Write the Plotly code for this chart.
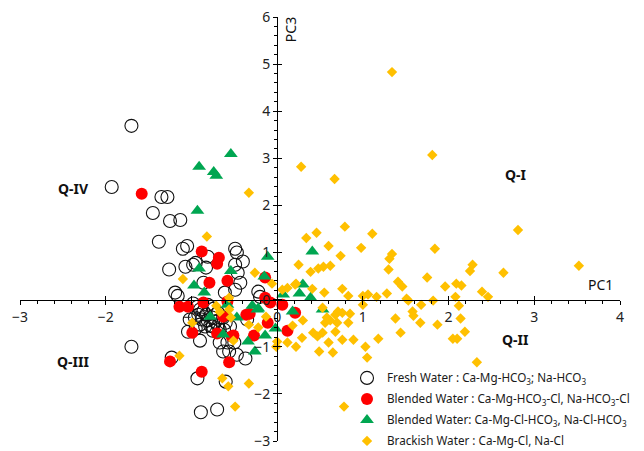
import plotly.graph_objects as go

# ---------------- data (PC1, PC3 scores) ----------------
fresh_pc1 = [-1.70, -1.93, -1.35, -1.28, -1.45, -1.25, -1.13, -1.38, -1.10, -1.05,
             -0.95, -0.81, -0.83, -1.26, -0.86, -1.19, -1.16, -0.61, -0.47, -0.49,
             -0.40, -0.46, -0.43, -0.49, -0.22, -0.20, -0.49, -1.70, -1.23, -0.93,
             -0.89, -0.70, -0.60, -1.04, -0.90, -0.75, -0.67, -0.63, -0.56, -0.58,
             -0.47, -0.50, -0.37,
             -0.98, -0.93, -0.90, -0.86, -0.83, -0.92, -0.96, -0.88, -0.81, -0.76,
             -0.72, -0.78, -0.84, -0.69, -0.67, -0.75, -0.90, -0.81, -0.74, -0.69,
             -0.63, -0.60, -0.62, -0.55, -1.02, -0.95, -0.35, -0.98, -1.07]
fresh_pc3 = [3.69, 2.39, 2.18, 2.18, 1.84, 1.67, 1.69, 1.23, 1.08, 1.14,
             0.78, 0.91, 0.68, 0.64, 0.36, 0.15, 0.08, 0.15, 1.00, 1.08,
             0.81, 0.57, 0.36, 0.21, 0.17, 0.06, 0.74, -1.00, -1.23, -1.67,
             -2.39, -2.33, -1.74, -0.68, -0.87, -0.57, -0.91, -1.10, -1.10, -0.91,
             -1.17, -0.91, -1.25,
             -0.08, -0.15, -0.21, -0.25, -0.32, -0.32, -0.38, -0.42, -0.44, -0.38,
             -0.47, -0.55, -0.57, -0.55, -0.64, -0.66, -0.53, -0.11, -0.19, -0.28,
             -0.38, -0.49, -0.64, -0.57, -0.42, -0.61, -0.42, 0.74, 0.70]

blend1_pc1 = [-1.58, -0.88, -0.68, -0.70, -0.79, -0.58, -0.86, -1.14, -1.04, -0.14,
              -0.14, -0.08, 0.06, 0.21, -0.58, -0.32, -0.99, -0.63, -0.70, -0.51,
              -0.56, -0.88, -1.25, -0.36, -0.11, -0.27, 0.12, -0.53]
blend1_pc3 = [2.25, 1.02, 0.89, 0.76, 0.36, 0.40, -0.06, -0.15, -0.15, 0.47,
              0.04, -0.06, -0.11, -0.28, -0.04, -0.30, -0.70, -0.36, -0.72, -0.76,
              -1.33, -1.53, -1.31, -0.32, -0.49, -0.76, -0.66, -0.78]

blend2_pc1 = [-0.54, -0.91, -0.74, -0.71, -0.93, 0.41, -0.11, -0.91, -0.54, -0.97,
              -0.15, 0.30, 0.26, 0.39, 0.07, -0.29, -0.23, -0.58, -0.47, -0.78,
              0.18, -0.02, -0.14, -0.34, -0.26, -0.63, -0.85, -0.22, 0.53]
blend2_pc3 = [3.09, 2.82, 2.71, 2.63, 1.89, 1.02, 0.91, 0.66, 0.61, 0.30,
              0.49, 0.32, 0.13, 0.04, 0.11, -0.13, -0.21, -0.11, -0.38, -0.36,
              -0.25, -0.61, -0.76, -0.89, -1.10, -0.74, 0.15, -0.19, -0.21]

brack_pc1 = [1.34, 1.81, 0.28, 0.67, -0.33, 0.79, 0.46, 0.34, 1.11, 0.60,
             0.98, 1.84, 2.81, 0.74, 1.34, 1.31, -0.82, 0.25, 0.39, 0.48,
             0.54, 0.62, 1.30, 1.75, 3.52, 2.28, 2.25, 2.64, 1.41, 1.46,
             1.96, 2.09, 2.15, 0.21, 0.41, 0.76, 0.55, 0.83, 1.00, 1.06,
             1.16, 1.28, 0.12, 0.06, 2.08, 1.51, 2.39, 2.46, -1.10, -0.26,
             -0.06, 0.22, -0.56,
             1.53, 1.82, 1.00, 0.71, 0.76, 0.68, 0.85, 0.58, 0.62, 0.70,
             0.83, 0.30, 0.56, 0.68, 0.18, 0.42, 0.53, 0.47, 0.29, 0.60,
             0.76, 0.89, 1.18, 1.03, 0.65, 0.49, 0.22, 0.12, 1.05, 1.38,
             1.58, 1.59, 1.68, 1.67, 1.44, 1.87, 2.14, 2.12, 2.19, 2.05,
             2.10, 2.33, 0.78, 0.53,
             -0.54, -0.33, -0.13, -0.22, 0.00, -0.01, -0.33, -0.57, -0.49, -0.51,
             -0.99, -1.14, -0.64, -0.71, -0.56, -0.67]
brack_pc3 = [4.83, 3.07, 2.82, 2.56, 2.27, 1.55, 1.42, 1.31, 1.40, 1.14,
             1.10, 1.08, 1.48, 0.93, 0.97, 0.87, 1.34, 0.74, 0.59, 0.66,
             0.70, 0.72, 0.64, 0.47, 0.72, 0.74, 0.61, 0.57, 0.38, 0.28,
             0.28, 0.34, 0.30, 0.32, 0.23, 0.23, 0.15, 0.08, 0.08, 0.11,
             0.06, 0.13, 0.25, 0.21, 0.06, 0.02, 0.17, 0.06, 0.44, 0.57,
             0.34, 0.34, 0.04,
             -0.02, -0.02, -0.11, -0.25, -0.28, -0.32, -0.30, -0.38, -0.44, -0.49,
             -0.49, -0.44, -0.49, -0.68, -0.55, -0.70, -0.70, -0.78, -0.81, -0.91,
             -0.85, -0.85, -0.83, -1.00, -1.12, -1.10, -1.00, -0.91, -1.23, -0.40,
             -0.25, -0.34, -0.11, -0.49, -0.70, -0.53, -0.40, -0.13, -0.68, -0.83,
             -0.83, -1.33, -2.27, -0.17,
             -0.38, -0.53, -0.36, -0.59, -0.89, -1.00, -1.78, -1.84, -2.27, -0.87,
             -0.49, -1.19, -1.67, -0.13, -0.21, -0.26]

x_ticks = [-3, -2, -1, 0, 1, 2, 3, 4]
y_ticks = [-3, -2, -1, 0, 1, 2, 3, 4, 5, 6]

names = ["Fresh Water : Ca-Mg-HCO<sub>3</sub>; Na-HCO<sub>3</sub>",
         "Blended Water : Ca-Mg-HCO<sub>3</sub>-Cl, Na-HCO<sub>3</sub>-Cl",
         "Blended Water: Ca-Mg-Cl-HCO<sub>3</sub>, Na-Cl-HCO<sub>3</sub>",
         "Brackish Water : Ca-Mg-Cl, Na-Cl"]

# ---------------- figure ----------------
fig = go.Figure()
fig.add_trace(go.Scatter(x=fresh_pc1, y=fresh_pc3, mode="markers", name=names[0],
                         legendgroup="a",
                         marker=dict(symbol="circle-open", size=13, color="#111111",
                                     line=dict(width=1.1, color="#111111"))))
fig.add_trace(go.Scatter(x=blend1_pc1, y=blend1_pc3, mode="markers", name=names[1],
                         legendgroup="b",
                         marker=dict(symbol="circle", size=12, color="#FF0000",
                                     line=dict(width=0))))
fig.add_trace(go.Scatter(x=blend2_pc1, y=blend2_pc3, mode="markers", name=names[2],
                         legendgroup="c",
                         marker=dict(symbol="triangle-up", size=12, color="#00A651",
                                     line=dict(width=0))))
fig.add_trace(go.Scatter(x=brack_pc1, y=brack_pc3, mode="markers", name=names[3],
                         legendgroup="d",
                         marker=dict(symbol="diamond", size=8, color="#FFC000",
                                     line=dict(width=0))))
# helper trace so the overlaid tick axes are drawn
fig.add_trace(go.Scatter(x=[None], y=[None], xaxis="x2", yaxis="y2",
                         showlegend=False, hoverinfo="skip", mode="markers"))

X0 = 3 / 7   # paper position of PC1 = 0
Y0 = 3 / 9   # paper position of PC3 = 0

axis_font = dict(family="Noto Sans", size=14, color="#222222")
common = dict(showgrid=False, zeroline=False, showline=True, linecolor="#000000",
              linewidth=1.3, ticks="outside", ticklen=4, tickwidth=1.2,
              tickcolor="#000000", tickfont=axis_font, anchor="free",
              minor=dict(ticks="outside", ticklen=3, tickwidth=1, dtick=0.2,
                         tickcolor="#000000"))

fig.update_layout(
    width=644, height=451,
    margin=dict(l=20, r=24, t=17, b=9.5, autoexpand=False),
    paper_bgcolor="white", plot_bgcolor="white",
    font=dict(family="Noto Sans", color="#222222"),
    xaxis=dict(range=[-3, 4], tickvals=x_ticks, position=Y0, domain=[0, 1], **common),
    yaxis=dict(range=[-3, 6], tickvals=y_ticks, position=X0, domain=[0, 1], **common),
    xaxis2=dict(range=[-3, 4], tickvals=x_ticks, overlaying="x", anchor="free",
                position=Y0, showgrid=False, zeroline=False, showline=False,
                showticklabels=False, ticks="inside", ticklen=4, tickwidth=1.2,
                tickcolor="#000000"),
    yaxis2=dict(range=[-3, 6], tickvals=y_ticks, overlaying="y", anchor="free",
                position=X0, showgrid=False, zeroline=False, showline=False,
                showticklabels=False, ticks="inside", ticklen=4, tickwidth=1.2,
                tickcolor="#000000"),
    showlegend=True,
    legend=dict(x=0.545, y=0.183, xanchor="left", yanchor="top",
                bgcolor="rgba(0,0,0,0)", font=dict(family="Noto Sans", size=11.7,
                                                     color="#1a1a1a"),
                tracegroupgap=2, itemwidth=30),
)

ann_font = dict(family="Noto Sans", size=14, color="#111111")
for txt, ax, ay in [("<b>Q-IV</b>", -2.38, 2.37), ("<b>Q-I</b>", 2.78, 2.65),
                    ("<b>Q-III</b>", -2.38, -1.31), ("<b>Q-II</b>", 2.78, -0.85),
                    ("PC1", 3.77, 0.32)]:
    fig.add_annotation(x=ax, y=ay, xref="x", yref="y", text=txt, showarrow=False,
                       font=ann_font)
fig.add_annotation(x=0.15, y=5.72, xref="x", yref="y", text="PC3", showarrow=False,
                   textangle=-90, font=ann_font)

fig.write_html("out.html")
